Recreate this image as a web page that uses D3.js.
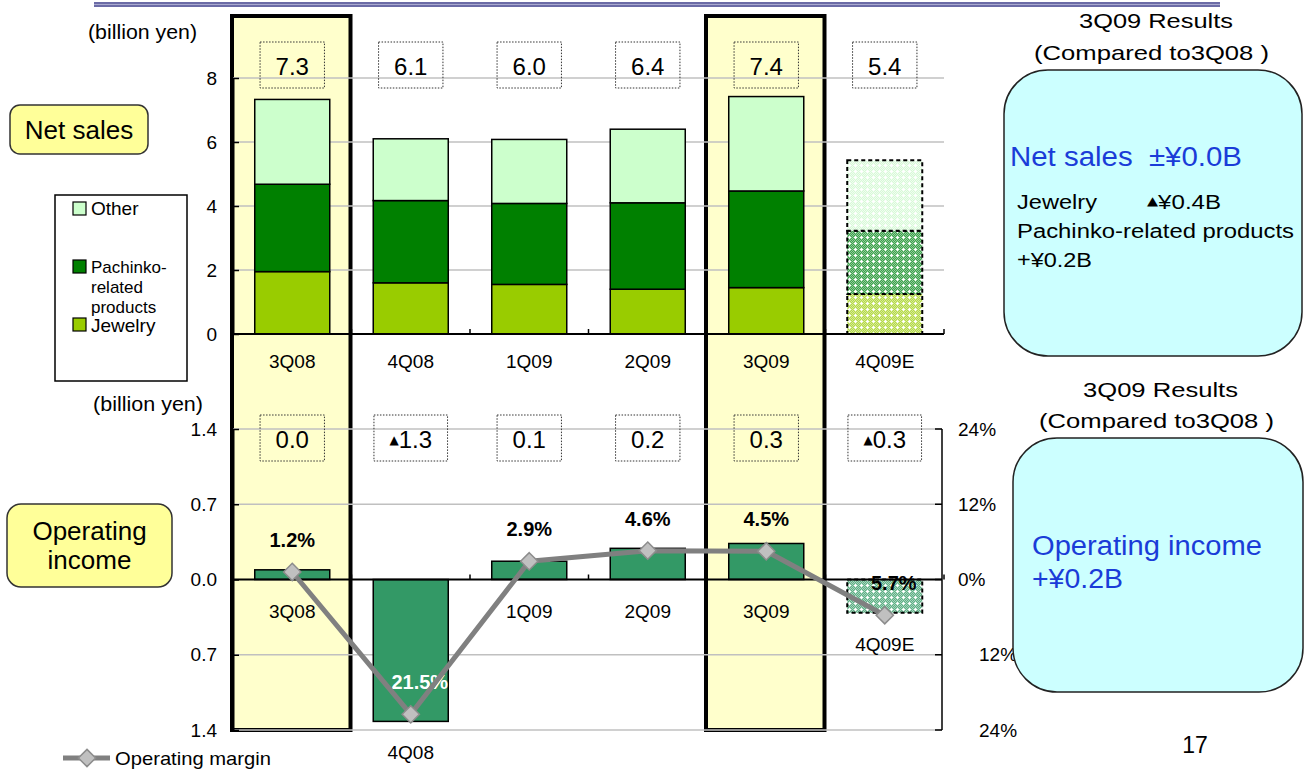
<!DOCTYPE html>
<html><head><meta charset="utf-8">
<script src="https://cdn.jsdelivr.net/npm/d3@7"></script>
<style>html,body{margin:0;padding:0;background:#fff;} svg{display:block;font-family:"Liberation Sans",Arial,sans-serif;}</style>
</head><body><svg id="c" width="1305" height="771"></svg>
<script>
// ---------- data ----------
const categories = ["3Q08","4Q08","1Q09","2Q09","3Q09","4Q09E"];
const jewelry  = [1.95, 1.60, 1.55, 1.40, 1.45, 1.25];
const pachinko = [2.73, 2.57, 2.53, 2.70, 3.02, 1.98];
const other    = [2.65, 1.93, 2.00, 2.30, 2.95, 2.20];
const salesTotalLabels = ["7.3","6.1","6.0","6.4","7.4","5.4"];
const opIncome = [0.09, -1.32, 0.17, 0.29, 0.335, -0.31];
const opLabels = ["0.0","▲1.3","0.1","0.2","0.3","▲0.3"];
const opMargin = [1.2, -21.5, 2.9, 4.6, 4.5, -5.7];
const opMarginLabels = ["1.2%","21.5%","2.9%","4.6%","4.5%","5.7%"];
const salesTicks = [0, 2, 4, 6, 8];
const opTicks = [1.4, 0.7, 0, -0.7, -1.4];
const opTickLabels = ["1.4","0.7","0.0","0.7","1.4"];
const marginTicks = [24, 12, 0, -12, -24];
const marginTickLabels = ["24%","12%","0%","12%","24%"];
const highlighted = ["3Q08","3Q09"];
const estimated = "4Q09E";
const seriesKeys = ["jewelry","pachinko","other"];
const seriesNames = {other:"Other", pachinko:"Pachinko-related products", jewelry:"Jewelry"};

// ---------- setup ----------
const svg = d3.select("#c");
const defs = svg.append("defs");
const colors = {jewelry:"#99CC00", pachinko:"#008000", other:"#CCFFCC"};
const opColor = "#339966";

function makePattern(id, base, light) {
  const p = defs.append("pattern").attr("id", id).attr("width", 6).attr("height", 6)
    .attr("patternUnits", "userSpaceOnUse");
  p.append("rect").attr("width", 6).attr("height", 6).attr("fill", base);
  const plus = [[3,2],[3,3],[3,4],[2,3],[4,3]];
  for (let i = 0; i < 6; i++) for (let j = 0; j < 6; j++) {
    const isPlus = plus.some(q => q[0] === i && q[1] === j);
    if (isPlus) p.append("rect").attr("x", i).attr("y", j).attr("width", 1).attr("height", 1).attr("fill", "#fff");
    else if ((i + j) % 2 === 0) p.append("rect").attr("x", i).attr("y", j).attr("width", 1).attr("height", 1).attr("fill", light);
  }
}
makePattern("pat-other", "#D8F8D8", "#F0FFF0");
makePattern("pat-pachinko", "#3E9E4E", "#8FCF97");
makePattern("pat-jewelry", "#B4D84A", "#D6EC94");
makePattern("pat-op", "#5FAE86", "#A6D6BC");

function txt(g, x, y, s, o = {}) {
  const t = g.append("text").attr("x", x).attr("y", y).text(s)
    .attr("font-size", o.size || 19).attr("fill", o.fill || "#000")
    .attr("text-anchor", o.anchor || "start")
    .attr("font-weight", o.weight || "normal")
    .style("white-space", "pre");
  if (o.len) t.attr("textLength", o.len).attr("lengthAdjust", "spacingAndGlyphs");
  if (o.dy) t.attr("dy", o.dy);
  return t;
}
function triText(g, x, y, s, size, anchor, len) {
  // text that may start with a small raised ▲
  const t = g.append("text").attr("x", x).attr("y", y).attr("font-size", size)
    .attr("text-anchor", anchor || "middle");
  if (s.startsWith("▲")) {
    t.append("tspan").text("▲").attr("font-family", "DejaVu Sans").attr("font-size", 12).attr("dy", -4);
    t.append("tspan").text(s.slice(1)).attr("dy", 4);
  } else t.text(s);
  if (len) t.attr("textLength", len).attr("lengthAdjust", "spacingAndGlyphs");
  return t;
}

// scales
const x = d3.scaleBand().domain(categories).range([233, 944]).paddingInner(0.367).paddingOuter(0.1835);
const step = x.step(), bw = x.bandwidth();
const cx = c => x(c) + bw / 2;
const ySales = d3.scaleLinear().domain([0, 8]).range([334, 78]);
const yOp = d3.scaleLinear().domain([-1.4, 1.4]).range([730, 429]);
const yM = d3.scaleLinear().domain([-24, 24]).range([730, 429]);

// top decorative line
svg.append("rect").attr("x", 94).attr("y", 2).attr("width", 1126).attr("height", 5).attr("fill", "#6B6BA6");
svg.append("line").attr("x1", 94).attr("x2", 1220).attr("y1", 4.5).attr("y2", 4.5).attr("stroke", "#A9A9CF").attr("stroke-width", 1);

// highlight column fills
const hl = svg.append("g");
hl.selectAll("rect").data(highlighted).join("rect")
  .attr("x", d => cx(d) - step / 2 - 1).attr("y", 16).attr("width", step).attr("height", 714)
  .attr("fill", "#FFFFCC");

// gridlines
const grid = svg.append("g").attr("stroke", "#C0C0C0").attr("stroke-width", 1.5);
grid.selectAll(".gs").data(salesTicks.filter(t => t !== 0)).join("line")
  .attr("x1", 233).attr("x2", 944).attr("y1", d => ySales(d)).attr("y2", d => ySales(d));
grid.selectAll(".go").data(opTicks.filter(t => t !== 0)).join("line")
  .attr("x1", 233).attr("x2", 942).attr("y1", d => yOp(d)).attr("y2", d => yOp(d));

// stacked sales bars
const rows = categories.map((c, i) => ({cat: c, jewelry: jewelry[i], pachinko: pachinko[i], other: other[i]}));
const stacked = d3.stack().keys(seriesKeys)(rows);
const barsG = svg.append("g");
stacked.forEach(layer => {
  barsG.append("g").selectAll("rect").data(layer).join("rect")
    .attr("x", d => x(d.data.cat)).attr("width", bw)
    .attr("y", d => ySales(d[1])).attr("height", d => ySales(d[0]) - ySales(d[1]))
    .attr("fill", d => d.data.cat === estimated ? `url(#pat-${layer.key})` : colors[layer.key])
    .attr("stroke", "#000")
    .attr("stroke-width", d => d.data.cat === estimated ? 2 : 1.5)
    .attr("stroke-dasharray", d => d.data.cat === estimated ? "4,3" : null);
});

// operating income bars
const opG = svg.append("g");
opG.selectAll("rect").data(categories).join("rect")
  .attr("x", d => x(d)).attr("width", bw)
  .attr("y", (d, i) => yOp(Math.max(0, opIncome[i])))
  .attr("height", (d, i) => Math.abs(yOp(opIncome[i]) - yOp(0)))
  .attr("fill", d => d === estimated ? "url(#pat-op)" : opColor)
  .attr("stroke", "#000")
  .attr("stroke-width", d => d === estimated ? 2 : 1.5)
  .attr("stroke-dasharray", d => d === estimated ? "4,3" : null);

// axes
const axG = svg.append("g");
[[ySales(0), 944], [yOp(0), 942]].forEach(([yy, xr]) => {
  axG.append("line").attr("x1", 233).attr("x2", xr).attr("y1", yy).attr("y2", yy).attr("stroke", "#000").attr("stroke-width", 2);
  axG.selectAll(null).data(categories).join("line")
    .attr("x1", d => cx(d) + step / 2).attr("x2", d => cx(d) + step / 2)
    .attr("y1", yy).attr("y2", yy - 5).attr("stroke", "#000").attr("stroke-width", 1.5);
});
const leftTop = d3.axisLeft(ySales).tickValues(salesTicks).tickSize(-6).tickSizeOuter(0).tickPadding(16).tickFormat(d3.format("d"));
const gL1 = svg.append("g").attr("transform", "translate(233,0)").call(leftTop);
const leftOp = d3.axisLeft(yOp).tickValues(opTicks).tickSize(-6).tickSizeOuter(0).tickPadding(16)
  .tickFormat((d, i) => opTickLabels[i]);
const gL2 = svg.append("g").attr("transform", "translate(233,0)").call(leftOp);
[gL1, gL2].forEach(g => {
  g.select(".domain").attr("stroke", "#000").attr("stroke-width", 2);
  g.selectAll(".tick line").attr("stroke", "#000").attr("stroke-width", 1.5);
  g.selectAll(".tick text").attr("font-size", 19).attr("font-family", "Liberation Sans, Arial, sans-serif").attr("fill", "#000");
});
// right margin axis
axG.append("line").attr("x1", 942).attr("x2", 942).attr("y1", yM(24)).attr("y2", yM(-24)).attr("stroke", "#000").attr("stroke-width", 1.5);
axG.selectAll(null).data(marginTicks).join("line")
  .attr("x1", 942).attr("x2", 935).attr("y1", d => yM(d)).attr("y2", d => yM(d)).attr("stroke", "#000").attr("stroke-width", 1.5);
const rtxt = svg.append("g");
marginTicks.forEach((t, i) => {
  txt(rtxt, t < 0 ? 979 : 958, yM(t), marginTickLabels[i], {size: 19, dy: "0.35em"});
});

// highlight column borders
hl.append("g").selectAll("rect").data(highlighted).join("rect")
  .attr("x", d => cx(d) - step / 2 - 1).attr("y", 16).attr("width", step).attr("height", 714)
  .attr("fill", "none").attr("stroke", "#000").attr("stroke-width", 4);

// category labels
const labG = svg.append("g");
categories.forEach((c, i) => {
  txt(labG, cx(c), 368, c, {size: 19, anchor: "middle"});
  const yy = (opIncome[i] >= 0 ? yOp(0) : yOp(opIncome[i])) + 38;
  txt(labG, cx(c), yy, c, {size: 19, anchor: "middle"});
});

// total boxes
function valueBox(c, label, cyBox) {
  const g = svg.append("g");
  const t = triText(g, cx(c), cyBox + 9.5, label, 24, "middle");
  const bb = t.node().getBBox();
  g.insert("rect", "text").attr("x", cx(c) - (bb.width + 31) / 2).attr("y", cyBox - 23)
    .attr("width", bb.width + 31).attr("height", 46)
    .attr("fill", "none").attr("stroke", "#333").attr("stroke-width", 1).attr("stroke-dasharray", "1.5,1.5");
}
categories.forEach((c, i) => valueBox(c, salesTotalLabels[i], 65));
categories.forEach((c, i) => valueBox(c, opLabels[i], 438));

// margin labels
const mlG = svg.append("g");
categories.forEach((c, i) => {
  const m = opMargin[i];
  txt(mlG, cx(c) + (m < 0 ? 9 : 0), yM(m) - 25, opMarginLabels[i],
    {size: 20, weight: "bold", anchor: "middle", fill: m < -15 ? "#fff" : "#000"});
});

// margin line
const line = d3.line().x((d, i) => cx(categories[i])).y(d => yM(d));
svg.append("path").datum(opMargin).attr("d", line).attr("fill", "none")
  .attr("stroke", "#808080").attr("stroke-width", 5).attr("stroke-linejoin", "round");
const diamond = d3.symbol().type(d3.symbolDiamond2).size(190);
svg.append("g").selectAll("path").data(opMargin).join("path")
  .attr("transform", (d, i) => `translate(${cx(categories[i])},${yM(d)})`)
  .attr("d", diamond).attr("fill", "#C0C0C0").attr("stroke", "#8C8C8C").attr("stroke-width", 1.5);

// axis titles
txt(svg, 88, 39, "(billion yen)", {size: 20, len: 109});
txt(svg, 93, 411, "(billion yen)", {size: 20, len: 110});

// Net sales & Operating income tags
svg.append("rect").attr("x", 10).attr("y", 105).attr("width", 138).attr("height", 49).attr("rx", 10)
  .attr("fill", "#FFFF99").attr("stroke", "#333").attr("stroke-width", 1.5);
txt(svg, 79, 139, "Net sales", {size: 26, anchor: "middle"});
svg.append("rect").attr("x", 7).attr("y", 504).attr("width", 165).attr("height", 83).attr("rx", 14)
  .attr("fill", "#FFFF99").attr("stroke", "#333").attr("stroke-width", 1.5);
txt(svg, 89.5, 540, "Operating", {size: 26, anchor: "middle"});
txt(svg, 89.5, 569, "income", {size: 26, anchor: "middle"});

// legend (series)
const lg = svg.append("g");
lg.append("rect").attr("x", 55).attr("y", 195).attr("width", 132).attr("height", 186)
  .attr("fill", "#fff").attr("stroke", "#000").attr("stroke-width", 1.5);
const legItems = [
  {key: "other", y: 202, lines: [[seriesNames.other, 215, 19]]},
  {key: "pachinko", y: 260, lines: [["Pachinko-", 273, 17], ["related", 293, 17], ["products", 313, 17]]},
  {key: "jewelry", y: 318, lines: [[seriesNames.jewelry, 332, 19]]}
];
legItems.forEach(it => {
  lg.append("rect").attr("x", 73).attr("y", it.y).attr("width", 13).attr("height", 13)
    .attr("fill", colors[it.key]).attr("stroke", "#000").attr("stroke-width", 1.2);
  it.lines.forEach(l => txt(lg, 91, l[1], l[0], {size: l[2]}));
});

// legend (operating margin)
svg.append("line").attr("x1", 63).attr("x2", 110).attr("y1", 758).attr("y2", 758).attr("stroke", "#808080").attr("stroke-width", 5);
svg.append("path").attr("transform", "translate(87,758)").attr("d", diamond)
  .attr("fill", "#C0C0C0").attr("stroke", "#8C8C8C").attr("stroke-width", 1.5);
txt(svg, 115, 765, "Operating margin", {size: 19, len: 156});

// right panels
const blue = "#1A3CD8";
txt(svg, 1079, 28, "3Q09 Results", {size: 21, len: 154});
txt(svg, 1034, 60, "(Compared to3Q08 )", {size: 21, len: 235});
svg.append("rect").attr("x", 1004).attr("y", 70).attr("width", 298).attr("height", 286).attr("rx", 44)
  .attr("fill", "#CCFFFF").attr("stroke", "#222").attr("stroke-width", 1.5);
txt(svg, 1010, 166, "Net sales  ±¥0.0B", {size: 27, fill: blue, len: 232});
txt(svg, 1017, 209, "Jewelry", {size: 20, len: 80});
triText(svg, 1147, 209, "▲¥0.4B", 20, "start", 74);
txt(svg, 1017, 238, "Pachinko-related products", {size: 20, len: 277});
txt(svg, 1017, 267, "+¥0.2B", {size: 20, len: 75});

txt(svg, 1083, 397, "3Q09 Results", {size: 21, len: 155});
txt(svg, 1039, 428, "(Compared to3Q08 )", {size: 21, len: 235});
svg.append("rect").attr("x", 1013).attr("y", 438).attr("width", 290).attr("height", 254).attr("rx", 44)
  .attr("fill", "#CCFFFF").attr("stroke", "#222").attr("stroke-width", 1.5);
txt(svg, 1032, 555, "Operating income", {size: 27, fill: blue, len: 230});
txt(svg, 1032, 588, "+¥0.2B", {size: 27, fill: blue, len: 91});

// page number
txt(svg, 1195, 753, "17", {size: 23, anchor: "middle"});
</script></body></html>
